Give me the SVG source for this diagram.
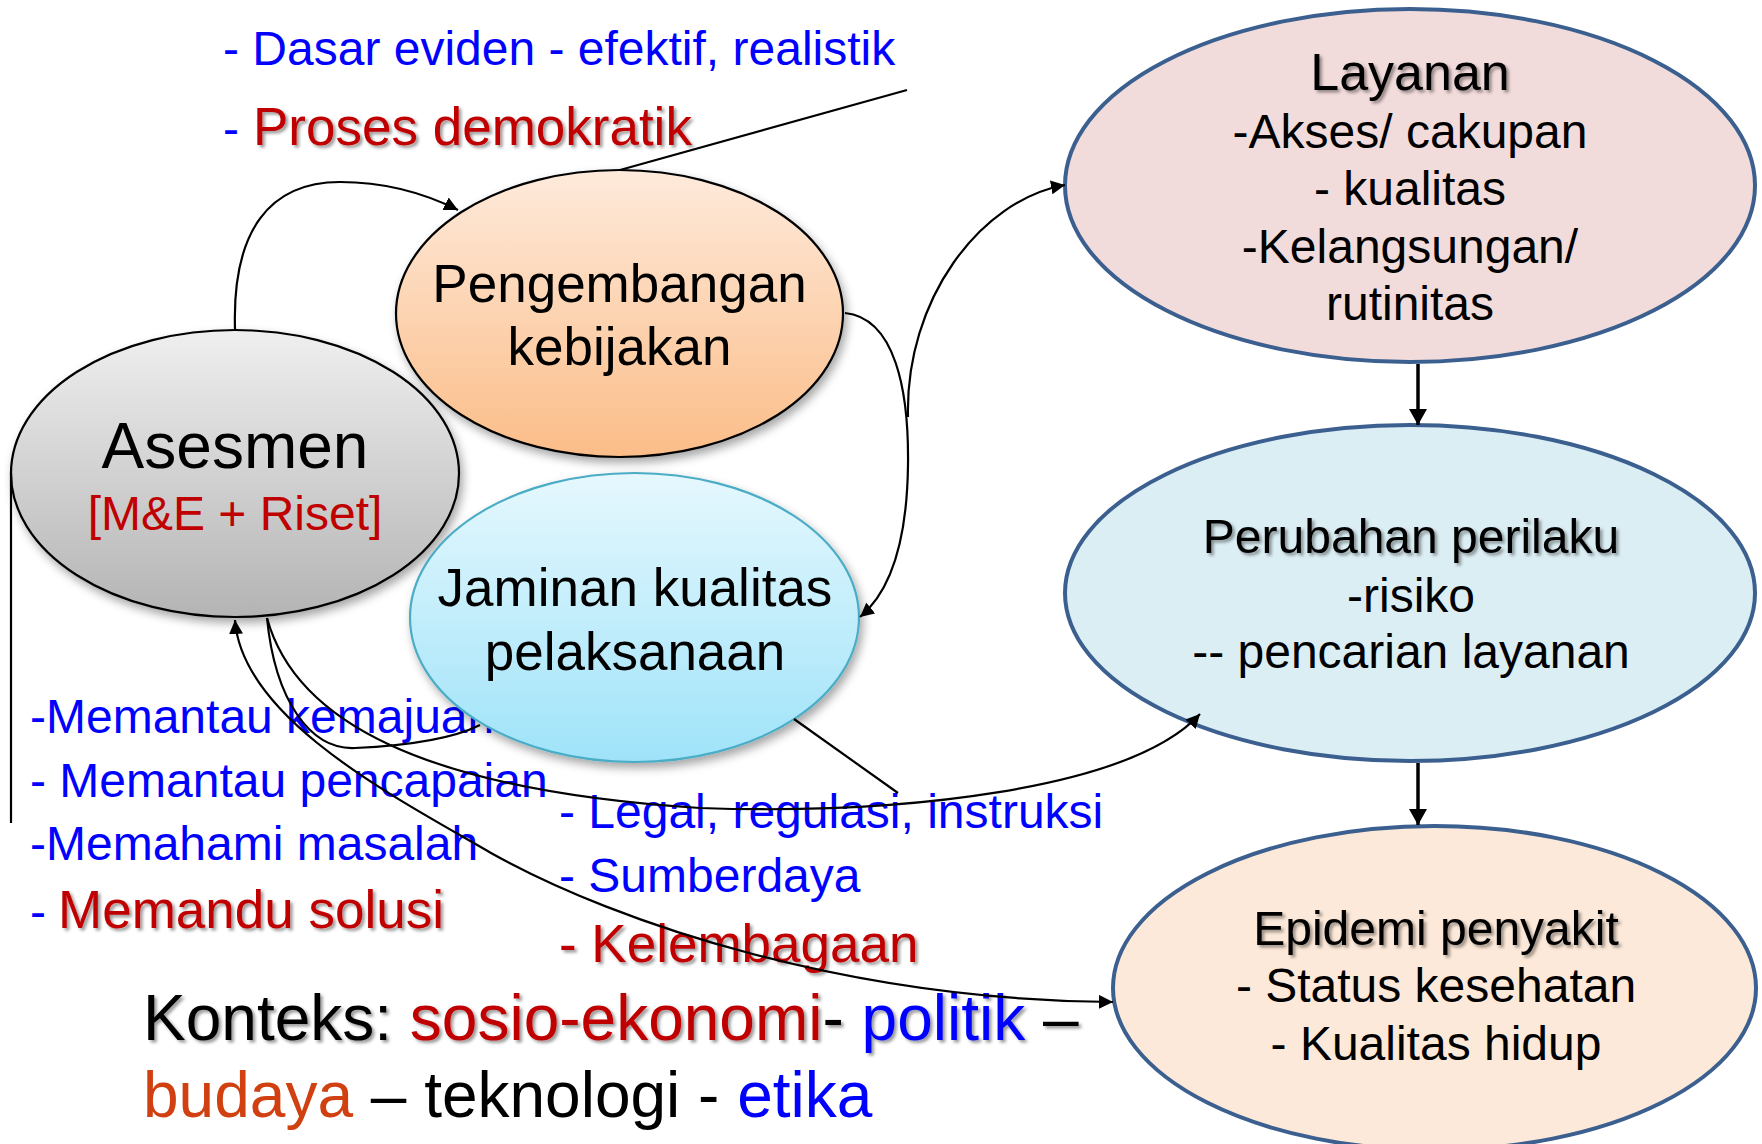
<svg xmlns="http://www.w3.org/2000/svg" width="1762" height="1144" viewBox="0 0 1762 1144">
<style>
text { font-family: "Liberation Sans", Arial, sans-serif; }
.c { text-anchor: middle; }
.blue { fill: #0000ff; }
.red { fill: #c00000; }
.blk { fill: #000000; }
.f48 { font-size: 48px; }
.f53 { font-size: 53px; }
.f64 { font-size: 64px; }
.conn { fill: none; stroke: #000000; stroke-width: 2.2; }
.thick { fill: none; stroke: #000000; stroke-width: 3.5; }
.outer { stroke: #3b5f8f; stroke-width: 4; }
</style>
<defs>
  <linearGradient id="gAses" x1="0" y1="0" x2="0" y2="1">
    <stop offset="0" stop-color="#efefef"/>
    <stop offset="1" stop-color="#b4b4b4"/>
  </linearGradient>
  <linearGradient id="gPeng" x1="0" y1="0" x2="0" y2="1">
    <stop offset="0" stop-color="#feeadb"/>
    <stop offset="1" stop-color="#fbbd88"/>
  </linearGradient>
  <linearGradient id="gJam" x1="0" y1="0" x2="0" y2="1">
    <stop offset="0" stop-color="#e6f8fe"/>
    <stop offset="1" stop-color="#9fe3f9"/>
  </linearGradient>
  <filter id="sh" x="-10%" y="-10%" width="125%" height="130%">
    <feDropShadow dx="3" dy="5" stdDeviation="5" flood-color="#000" flood-opacity="0.35"/>
  </filter>
  <filter id="ts" x="-5%" y="-20%" width="112%" height="150%">
    <feDropShadow dx="2.5" dy="2.5" stdDeviation="1.5" flood-color="#000" flood-opacity="0.4"/>
  </filter>
  <marker id="arr" viewBox="0 0 14 14" refX="14" refY="7" markerWidth="14" markerHeight="14" markerUnits="userSpaceOnUse" orient="auto-start-reverse">
    <path d="M0,0 L14,7 L0,14 z" fill="#000"/>
  </marker>
  <marker id="arrB" viewBox="0 0 16 18" refX="16" refY="9" markerWidth="16" markerHeight="18" markerUnits="userSpaceOnUse" orient="auto">
    <path d="M0,0 L16,9 L0,18 z" fill="#000"/>
  </marker>
</defs>

<rect x="0" y="0" width="1762" height="1144" fill="#ffffff"/>

<g id="annotations">
  <text class="blue f48" x="223" y="65">- Dasar eviden - efektif, realistik</text>
  <text class="blue f48" x="223" y="145">-</text>
  <text class="red f53" x="253" y="145" filter="url(#ts)">Proses demokratik</text>

  <text class="blue f48" x="30" y="733">-Memantau kemajuan</text>
  <text class="blue f48" x="30" y="797">- Memantau pencapaian</text>
  <text class="blue f48" x="30" y="860">-Memahami masalah</text>
  <text class="blue f48" x="30" y="928">-</text>
  <text class="red f53" x="58" y="928" filter="url(#ts)">Memandu solusi</text>

  <text class="blue f48" x="559" y="828">- Legal, regulasi, instruksi</text>
  <text class="blue f48" x="559" y="892">- Sumberdaya</text>
  <text class="red f53" x="559" y="962" filter="url(#ts)">- Kelembagaan</text>

  <text class="f64" x="143" y="1040" filter="url(#ts)"><tspan class="blk">Konteks: </tspan><tspan class="red">sosio-ekonomi</tspan><tspan class="blk">- </tspan><tspan class="blue">politik</tspan><tspan class="blk"> –</tspan></text>
  <text class="f64" x="143" y="1117"><tspan fill="#d04010">budaya</tspan><tspan class="blk"> – teknologi - </tspan><tspan class="blue">etika</tspan></text>
</g>

<g id="pengembangan">
  <ellipse cx="619.5" cy="313.5" rx="223.5" ry="143.5" fill="url(#gPeng)" stroke="#000" stroke-width="2.2" filter="url(#sh)"/>
  <text class="c f53 blk" x="619.5" y="302">Pengembangan</text>
  <text class="c f53 blk" x="619.5" y="365">kebijakan</text>
</g>

<g id="asesmen">
  <ellipse cx="235" cy="473.5" rx="224" ry="143.5" fill="url(#gAses)" stroke="#000" stroke-width="2.2" filter="url(#sh)"/>
  <text class="c blk f64" x="235" y="468">Asesmen</text>
  <text class="c red f48" x="235" y="530">[M&amp;E + Riset]</text>
</g>

<g id="jaminan">
  <ellipse cx="634.5" cy="617.5" rx="224.5" ry="144.5" fill="url(#gJam)" stroke="#4bacc6" stroke-width="2.2" filter="url(#sh)"/>
  <text class="c f53 blk" x="635" y="606">Jaminan kualitas</text>
  <text class="c f53 blk" x="635" y="670">pelaksanaan</text>
</g>

<g id="layanan">
  <ellipse class="outer" cx="1410" cy="185.5" rx="345" ry="176.5" fill="#f2dcdb"/>
  <text class="c blk" font-size="52" x="1410" y="90" filter="url(#ts)">Layanan</text>
  <text class="c f48 blk" x="1410" y="148">-Akses/ cakupan</text>
  <text class="c f48 blk" x="1410" y="205">- kualitas</text>
  <text class="c f48 blk" x="1410" y="263">-Kelangsungan/</text>
  <text class="c f48 blk" x="1410" y="320">rutinitas</text>
</g>

<g id="perubahan">
  <ellipse class="outer" cx="1410" cy="593" rx="345" ry="168" fill="#dbeef4"/>
  <text class="c f48 blk" x="1411" y="553" filter="url(#ts)">Perubahan perilaku</text>
  <text class="c f48 blk" x="1411" y="612">-risiko</text>
  <text class="c f48 blk" x="1411" y="668">-- pencarian layanan</text>
</g>

<g id="epidemi">
  <ellipse class="outer" cx="1434.5" cy="988" rx="321.5" ry="162" fill="#fde9d9"/>
  <text class="c f48 blk" x="1436" y="945" filter="url(#ts)">Epidemi penyakit</text>
  <text class="c f48 blk" x="1436" y="1002">- Status kesehatan</text>
  <text class="c f48 blk" x="1436" y="1060">- Kualitas hidup</text>
</g>

<g id="connectors">
  <path class="conn" d="M235,329 C232,230 270,182 340,182 C390,182 430,196 458,210" marker-end="url(#arr)"/>
  <path class="conn" d="M845,313 C895,318 909,390 908,465 C907,545 890,592 860,617" marker-end="url(#arr)"/>
  <path class="conn" d="M908,417 C905,300 980,200 1065,185" marker-end="url(#arr)"/>
  <path class="conn" d="M620,170 L907,90"/>
  <path class="conn" d="M794,719 L898,793"/>
  <path class="conn" d="M11,473 L11,823"/>
  <path class="conn" d="M267,618 C275,700 310,750 355,748 C400,746 450,740 480,725"/>
  <path class="conn" d="M267,618 C295,720 420,790 700,808 C900,815 1130,790 1200,714" marker-end="url(#arr)"/>
  <path class="conn" d="M235,620 C242,720 400,800 491,853 C620,925 850,1000 1113,1002" marker-start="url(#arr)" marker-end="url(#arr)"/>
  <path class="thick" d="M1418,364 L1418,425" marker-end="url(#arrB)"/>
  <path class="thick" d="M1418,763 L1418,825" marker-end="url(#arrB)"/>
</g>
</svg>
